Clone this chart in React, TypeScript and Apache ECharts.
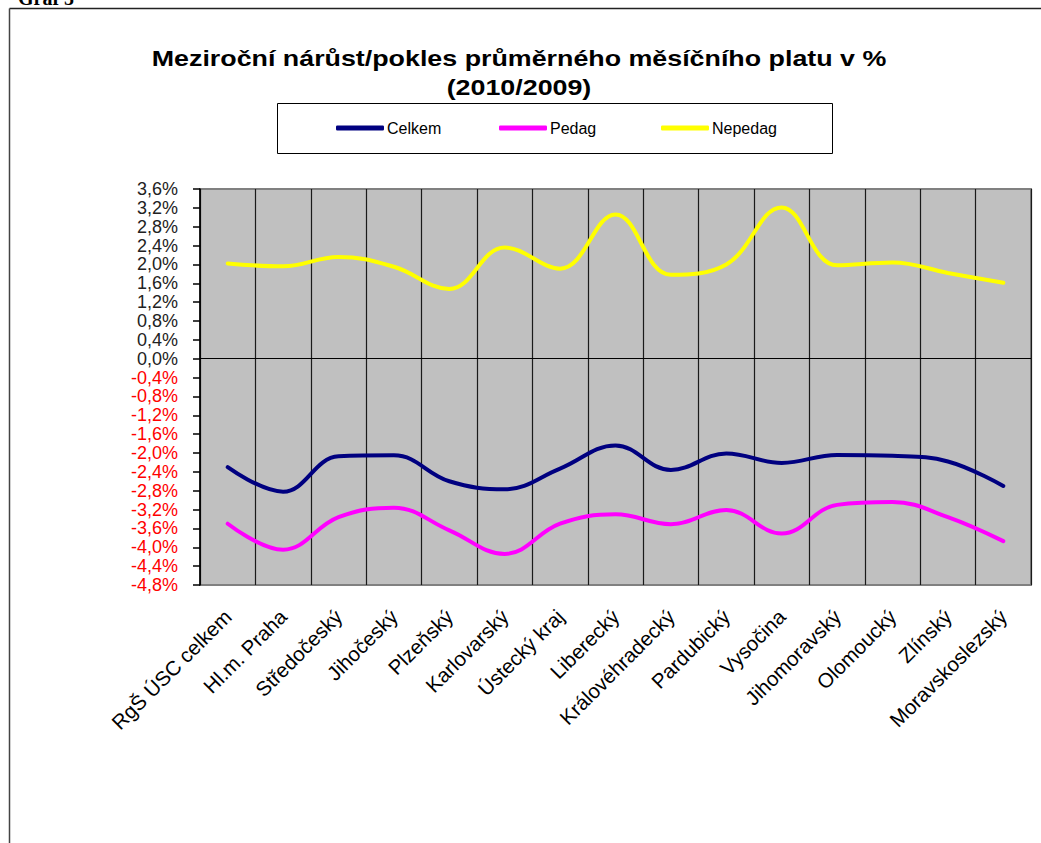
import React, { useEffect, useRef } from "react";
import * as echarts from "echarts";

const titleLines = [
  "Meziroční nárůst/pokles průměrného měsíčního platu v %",
  "(2010/2009)",
];

const categories = [
  "RgŠ ÚSC celkem",
  "Hl.m. Praha",
  "Středočeský",
  "Jihočeský",
  "Plzeňský",
  "Karlovarský",
  "Ústecký kraj",
  "Liberecký",
  "Královéhradecký",
  "Pardubický",
  "Vysočina",
  "Jihomoravský",
  "Olomoucký",
  "Zlínský",
  "Moravskoslezský",
];

const celkem = [-2.3, -2.82, -2.07, -2.05, -2.6, -2.77, -2.33, -1.84, -2.36, -2.01, -2.21, -2.04, -2.06, -2.18, -2.7];
const pedag = [-3.5, -4.05, -3.36, -3.16, -3.64, -4.14, -3.5, -3.3, -3.51, -3.21, -3.71, -3.1, -3.04, -3.36, -3.87];
const nepedag = [2.02, 1.96, 2.16, 1.95, 1.48, 2.36, 1.91, 3.06, 1.78, 2.0, 3.21, 1.98, 2.04, 1.82, 1.61];

const seriesNames = ["Celkem", "Pedag", "Nepedag"];
const seriesColors = ["#000080", "#FF00FF", "#FFFF00"];

const yMin = -4.8;
const yMax = 3.6;
const yStep = 0.4;

const FONT = "Arial, 'Liberation Sans', sans-serif";

function fmt(v: number): string {
  const s = Math.abs(v) < 1e-9 ? "0,0" : v.toFixed(1).replace(".", ",");
  return s + "%";
}

export default function App() {
  const ref = useRef<HTMLDivElement>(null);

  useEffect(() => {
    if (!ref.current) return;
    const chart = echarts.init(ref.current, null, { renderer: "svg" });
    const data = [celkem, pedag, nepedag];
    const legendLefts = [331, 494, 656];
    const titleY = [58, 87];

    chart.setOption({
      animation: false,
      backgroundColor: "#FFFFFF",
      legend: seriesNames.map((n, i) => ({
        data: [n],
        left: legendLefts[i],
        top: 115,
        itemWidth: 48,
        itemHeight: 5,
        icon: "roundRect",
        itemGap: 0,
        textStyle: { fontFamily: FONT, fontSize: 16, color: "#000", padding: [0, 0, 0, -2] },
        selectedMode: false,
      })),
      graphic: [
        {
          type: "line",
          shape: { x1: 9.5, y1: 8.5, x2: 1041, y2: 8.5 },
          style: { stroke: "#222", lineWidth: 1.5 },
          silent: true,
        },
        {
          type: "line",
          shape: { x1: 9.5, y1: 8.5, x2: 9.5, y2: 843 },
          style: { stroke: "#444", lineWidth: 1.5 },
          silent: true,
        },
        {
          type: "text",
          left: 18,
          top: -12,
          style: {
            text: "Graf 5",
            fontFamily: "'Liberation Serif', 'Times New Roman', serif",
            fontWeight: "bold",
            fontSize: 20,
            fill: "#000",
          },
          silent: true,
        },
        ...titleLines.map((t, i) => ({
          type: "text",
          x: 519,
          y: titleY[i],
          scaleX: 1.22,
          silent: true,
          style: {
            text: t,
            align: "center",
            verticalAlign: "middle",
            fontFamily: FONT,
            fontWeight: "bold",
            fontSize: 22,
            fill: "#000",
          },
        })),
        {
          type: "rect",
          shape: { x: 277.5, y: 103.5, width: 555, height: 50 },
          style: { fill: "none", stroke: "#000", lineWidth: 1 },
          silent: true,
          z: -1,
        },
      ],
      grid: {
        left: 200,
        top: 189,
        width: 831,
        height: 396,
        show: true,
        backgroundColor: "#C0C0C0",
        borderColor: "#808080",
        borderWidth: 2,
        containLabel: false,
      },
      xAxis: {
        type: "category",
        data: categories,
        boundaryGap: true,
        axisLine: { show: false, onZero: false },
        axisTick: { show: false },
        splitLine: { show: true, lineStyle: { color: "#1a1a1a", width: 1.2 } },
        axisLabel: {
          interval: 0,
          rotate: 45,
          margin: 28,
          fontFamily: FONT,
          fontSize: 20.5,
          color: "#000",
        },
      },
      yAxis: {
        type: "value",
        min: yMin,
        max: yMax,
        interval: yStep,
        axisLine: { show: true, lineStyle: { color: "#000", width: 1.5 } },
        axisTick: { show: true, length: 7, lineStyle: { color: "#000", width: 1.5 } },
        splitLine: { show: false },
        axisLabel: {
          margin: 22,
          fontFamily: FONT,
          fontSize: 18,
          formatter: (v: number) => fmt(v),
          color: (v: any) => (Number(v) < -1e-9 ? "#FF0000" : "#222222"),
        },
      },
      series: seriesNames.map((n, i) => ({
        name: n,
        type: "line",
        data: data[i],
        smooth: 0.4,
        symbol: "none",
        showSymbol: false,
        lineStyle: { color: seriesColors[i], width: 4, cap: "round" },
        itemStyle: { color: seriesColors[i] },
        z: 3 + i,
        ...(i === 0
          ? {
              markLine: {
                silent: true,
                symbol: ["none", "none"],
                label: { show: false },
                lineStyle: { color: "#000", width: 1.2, type: "solid" },
                data: [{ yAxis: 0 }],
                z: 1,
              },
            }
          : {}),
      })),
    });

    return () => chart.dispose();
  }, []);

  return (
    <div
      ref={ref}
      style={{ position: "fixed", left: 0, top: 0, width: 1041, height: 843 }}
    />
  );
}
